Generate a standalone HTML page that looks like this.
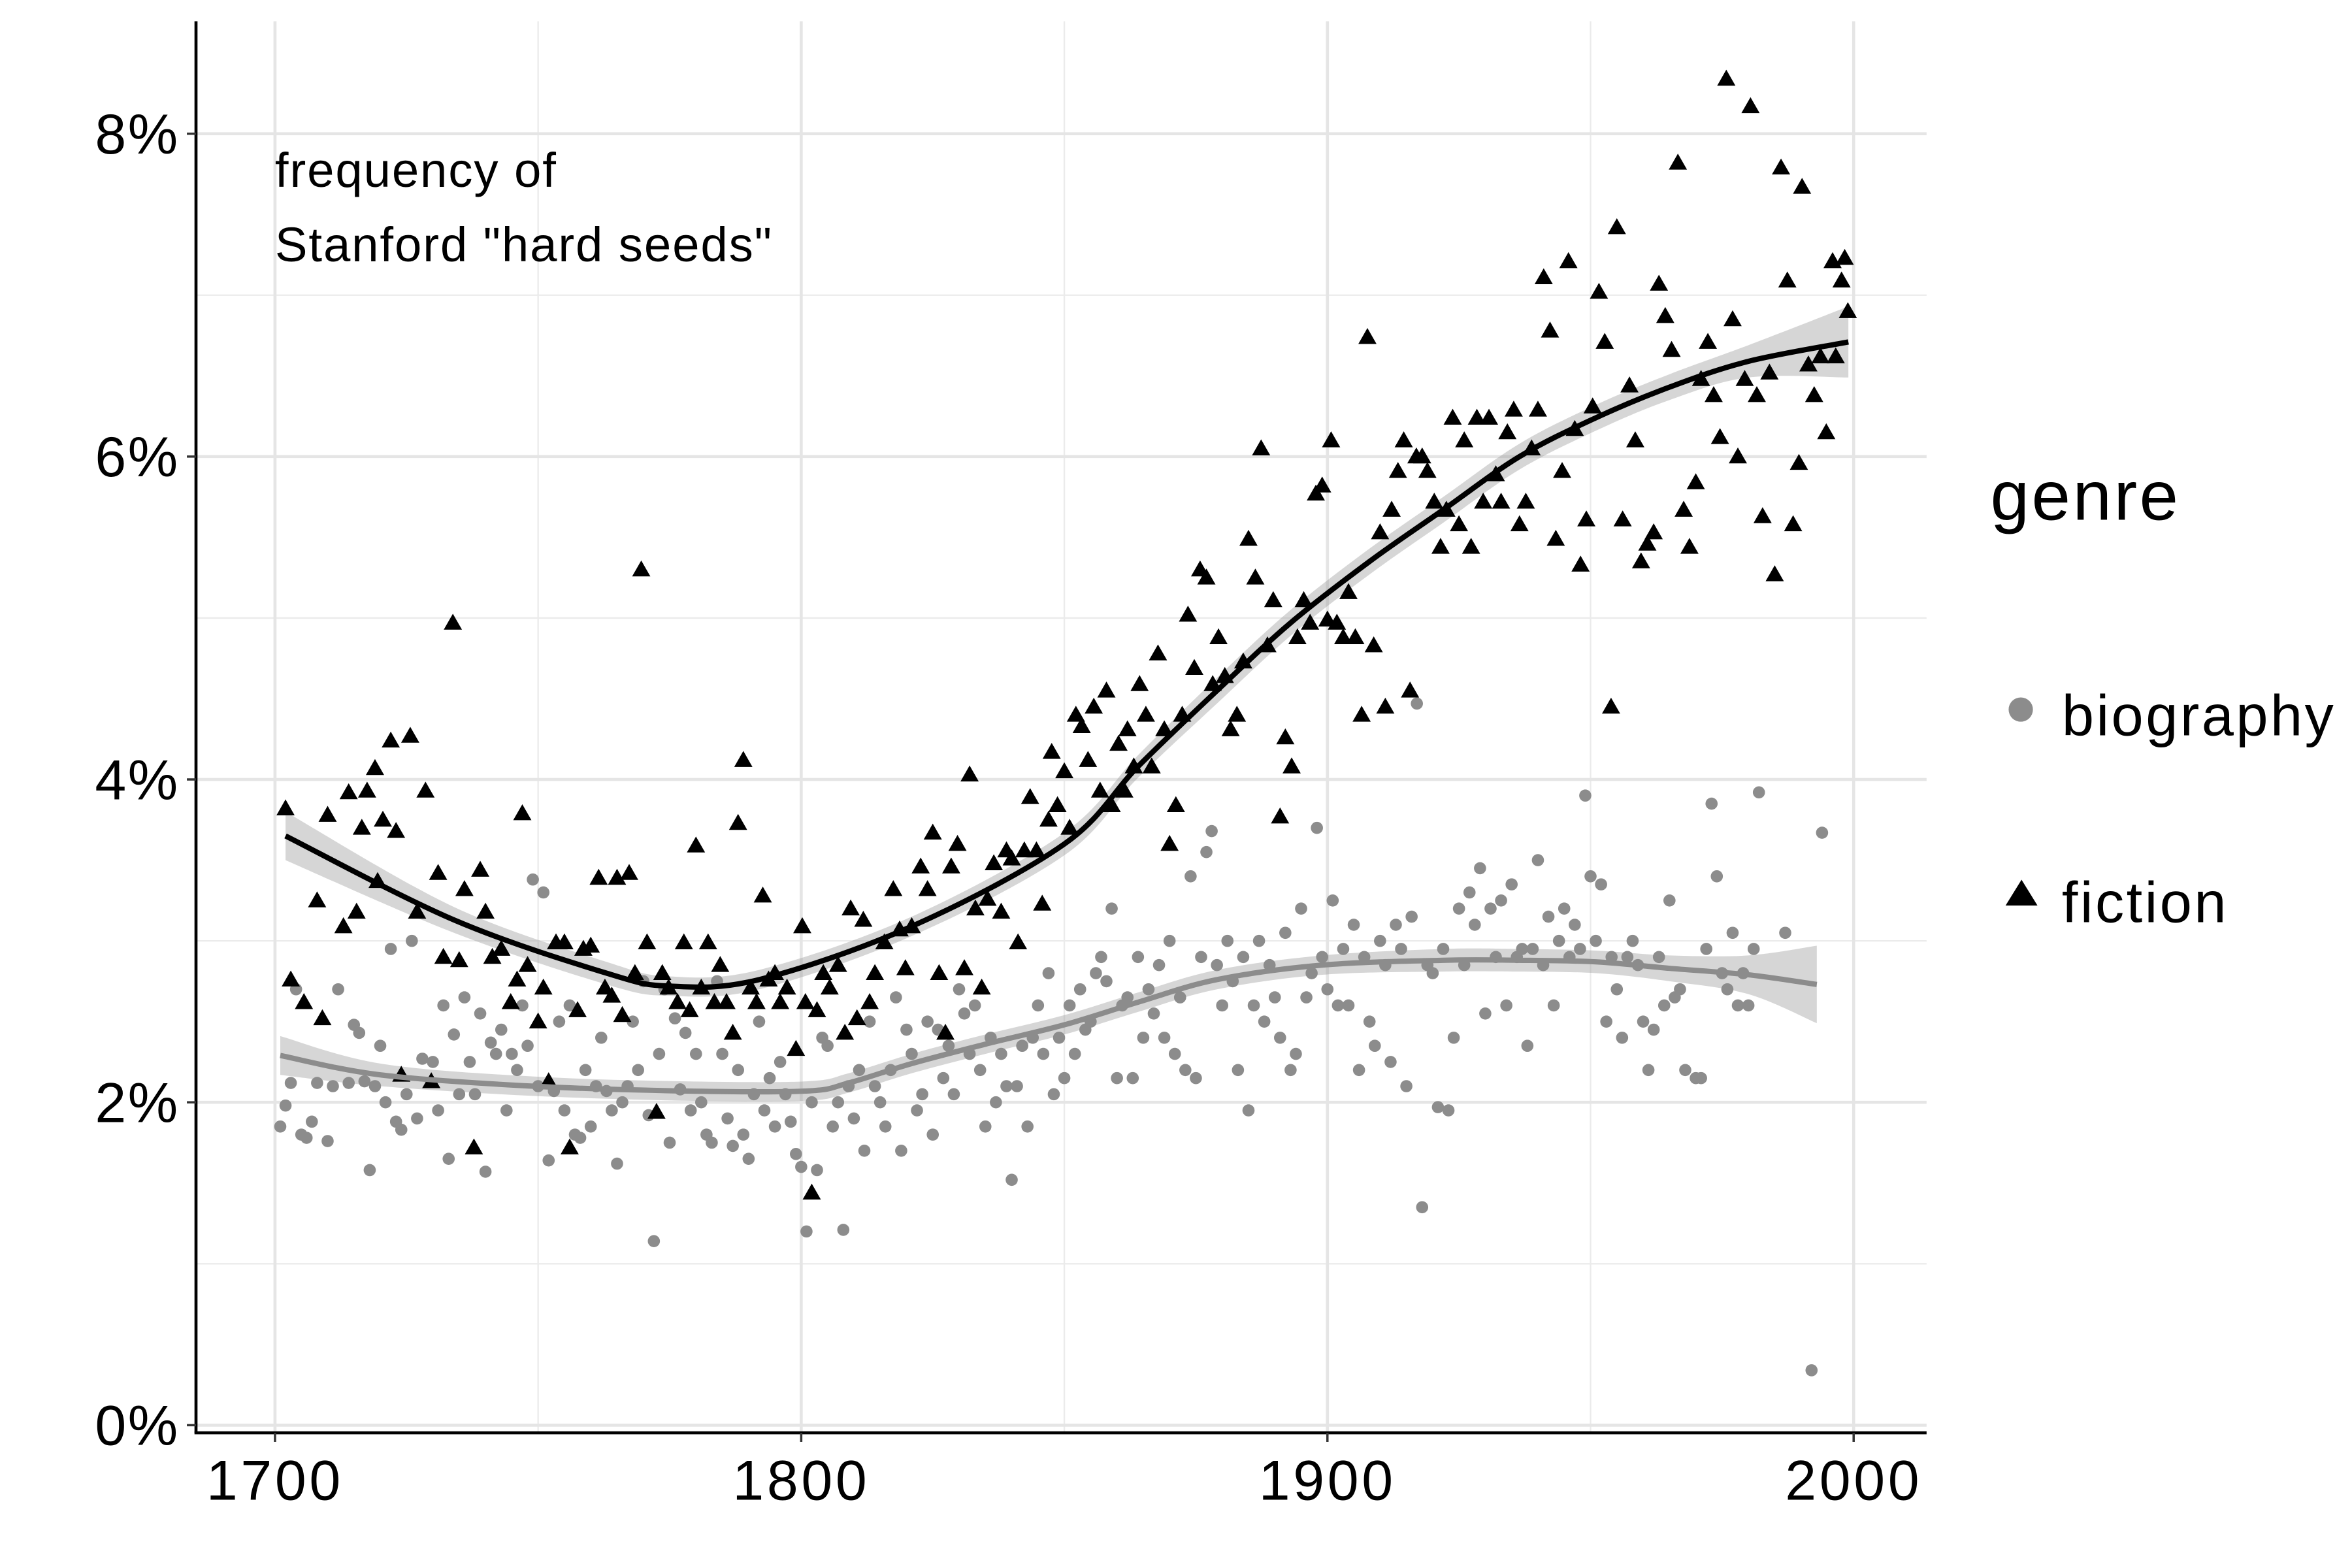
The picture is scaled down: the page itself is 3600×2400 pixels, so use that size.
<!DOCTYPE html>
<html><head><meta charset="utf-8"><style>
html,body{margin:0;padding:0;background:#fff;}
svg{display:block;}
text{font-family:"Liberation Sans",sans-serif;}
</style></head><body>
<svg id="chart" width="3600" height="2400" viewBox="0 0 1548 1032" preserveAspectRatio="none" xmlns="http://www.w3.org/2000/svg">
<g id="grid"></g>
<g id="bands"></g>
<g id="bioPts"></g>
<g id="ficPts"></g>
<g id="lines"></g>
<g id="axes"></g>
<text x="181" y="123" font-size="32" letter-spacing="0.8">frequency of</text>
<text x="181" y="172" font-size="32" letter-spacing="0.8">Stanford "hard seeds"</text>
<g>
<text x="1310" y="342" font-size="46" letter-spacing="1.5">genre</text>
<circle cx="1330" cy="467" r="8" fill="#8c8c8c"/>
<text x="1357" y="484" font-size="38" letter-spacing="1.5">biography</text>
<polygon points="1320,596 1341,596 1330.5,579" fill="#000"/>
<text x="1357" y="607" font-size="38" letter-spacing="1.5">fiction</text>
</g>
</svg>
<script>
const xTicks=[1700,1800,1900,2000];
const xMinor=[1750,1850,1950];
const yTicks=[0,2,4,6,8];
const yMinor=[1,3,5,7];
const yTickLabels=["0%","2%","4%","6%","8%"];
const ficYears=[1702,1703,1705.5,1708,1709,1710,1713,1714,1715.5,1716.5,1717.5,1719,1719.5,1720.5,1722,1723,1724,1725.7,1727,1728.6,1729.7,1731,1732,1733.8,1735,1736,1737.8,1739,1740,1741.3,1743,1744.8,1746,1747,1748,1750,1751,1752,1753.4,1755,1756,1757.5,1758.6,1760,1761.5,1762.7,1764,1765,1766,1767.3,1768.4,1769.6,1770.7,1772.5,1773.6,1774.8,1776.5,1777.7,1778.8,1780,1781,1782.3,1783.5,1784.6,1785.8,1787,1788,1789,1790.4,1791.5,1792.7,1793.8,1795,1796,1797.3,1799,1800.2,1800.8,1802,1803,1804.2,1805.4,1807,1808.3,1809.4,1810.6,1811.8,1813,1814,1815.8,1817.5,1818.7,1819.8,1821,1822.7,1824,1825,1826.2,1827.4,1828.5,1829.7,1831,1832,1833.1,1834.3,1835.4,1836.6,1838,1839,1840,1841.2,1842.4,1843.5,1844.7,1845.8,1847,1847.6,1848.7,1850,1851,1852.2,1853.3,1854.5,1855.6,1856.8,1858,1859,1860.3,1861.4,1862,1863.2,1864.3,1865.5,1866.6,1867.8,1869,1870,1871.2,1872.4,1873.5,1874.7,1875.8,1877,1878.2,1879.3,1880.5,1881.6,1882.8,1884,1885,1886.3,1887.4,1888.6,1889.7,1891,1892,1893.2,1894.3,1895.5,1896.7,1897.8,1899,1900,1900.7,1901.8,1903,1904,1905.3,1906.5,1907.6,1908.8,1910,1911,1912.2,1913.4,1914.5,1915.7,1916.9,1918,1919,1920.3,1921.5,1922.6,1923.8,1925,1926,1927.3,1928.4,1929.6,1930.7,1932,1933,1934.2,1935.4,1936.5,1937.7,1938.8,1940,1941.1,1942.3,1943.4,1944.6,1945.8,1947,1948.1,1949.2,1950.4,1951.6,1952.7,1953.9,1955,1956.1,1957.4,1958.5,1959.6,1960.8,1962,1963,1964.2,1965.4,1966.6,1967.7,1968.8,1970,1971,1972.3,1973.4,1974.6,1975.8,1977,1978,1979.3,1980.4,1981.6,1982.7,1984,1985,1986.2,1987.4,1988.5,1989.6,1990.2,1991.4,1992.5,1993.7,1994.8,1996,1996.6,1997.7,1998.3,1998.9];
const ficValues=[3.82,2.76,2.62,3.25,2.52,3.78,3.09,3.92,3.18,3.70,3.93,4.07,3.37,3.75,4.24,3.68,2.17,4.27,3.18,3.93,2.13,3.42,2.90,4.97,2.88,3.32,1.72,3.44,3.18,2.90,2.95,2.62,2.76,3.79,2.85,2.50,2.71,2.13,2.99,2.99,1.72,2.57,2.95,2.97,3.39,2.71,2.66,3.39,2.54,3.42,2.80,5.30,2.99,1.94,2.80,2.71,2.62,2.99,2.57,3.59,2.71,2.99,2.62,2.85,2.62,2.43,3.73,4.12,2.71,2.62,3.28,2.76,2.80,2.62,2.71,2.33,3.09,2.62,1.44,2.57,2.80,2.71,2.85,2.43,3.20,2.52,3.13,2.62,2.80,2.99,3.32,3.07,2.83,3.09,3.46,3.32,3.67,2.80,2.43,3.46,3.60,2.83,4.03,3.20,2.71,3.26,3.48,3.18,3.56,3.51,2.99,3.56,3.89,3.56,3.23,3.75,4.17,3.84,4.05,3.70,4.40,4.33,4.12,4.45,3.93,4.55,3.84,4.22,3.93,4.31,4.08,4.59,4.40,4.08,4.78,4.31,3.60,3.84,4.40,5.02,4.69,5.30,5.25,4.59,4.88,4.64,4.31,4.40,4.73,5.49,5.25,6.05,4.83,5.11,3.77,4.26,4.08,4.88,5.11,4.97,5.77,5.82,4.99,6.10,4.97,4.88,5.16,4.88,4.40,6.74,4.83,5.53,4.45,5.67,5.91,6.10,4.55,6.00,6.00,5.91,5.72,5.44,5.67,6.24,5.58,6.10,5.44,6.24,5.72,6.24,5.89,5.72,6.15,6.29,5.58,5.72,6.05,6.29,7.11,6.78,5.49,5.91,7.21,6.17,5.33,5.61,6.31,7.02,6.71,4.45,7.42,5.61,6.44,6.10,5.35,5.46,5.53,7.07,6.87,6.66,7.82,5.67,5.44,5.84,6.48,6.71,6.38,6.12,8.34,6.85,6.00,6.48,8.17,6.38,5.63,6.52,5.27,7.79,7.09,5.58,5.96,7.67,6.57,6.38,6.62,6.15,7.21,6.62,7.09,7.23,6.90];
const bioYears=[1701,1702,1703,1704,1705,1706,1707,1708,1710,1711,1712,1714,1715,1716,1717,1718,1719,1720,1721,1722,1723,1724,1725,1726,1727,1728,1730,1731,1732,1733,1734,1735,1736,1737,1738,1739,1740,1741,1742,1743,1744,1745,1746,1747,1748,1749,1750,1751,1752,1753,1754,1755,1756,1757,1758,1759,1760,1761,1762,1763,1764,1765,1766,1767,1768,1769,1770,1771,1772,1773,1774,1775,1776,1777,1778,1779,1780,1781,1782,1783,1784,1785,1786,1787,1788,1789,1790,1791,1792,1793,1794,1795,1796,1797,1798,1799,1800,1801,1802,1803,1804,1805,1806,1807,1808,1809,1810,1811,1812,1813,1814,1815,1816,1817,1818,1819,1820,1821,1822,1823,1824,1825,1826,1827,1828,1829,1830,1831,1832,1833,1834,1835,1836,1837,1838,1839,1840,1841,1842,1843,1844,1845,1846,1847,1848,1849,1850,1851,1852,1853,1854,1855,1856,1857,1858,1859,1860,1861,1862,1863,1864,1865,1866,1867,1868,1869,1870,1871,1872,1873,1874,1875,1876,1877,1878,1879,1880,1881,1882,1883,1884,1885,1886,1887,1888,1889,1890,1891,1892,1893,1894,1895,1896,1897,1898,1899,1900,1901,1902,1903,1904,1905,1906,1907,1908,1909,1910,1911,1912,1913,1914,1915,1916,1917,1918,1919,1920,1921,1922,1923,1924,1925,1926,1927,1928,1929,1930,1931,1932,1933,1934,1935,1936,1937,1938,1939,1940,1941,1942,1943,1944,1945,1946,1947,1948,1949,1950,1951,1952,1953,1954,1955,1956,1957,1958,1959,1960,1961,1962,1963,1964,1965,1966,1967,1968,1970,1971,1972,1973,1974,1975,1976,1977,1978,1979,1980,1981,1982,1987,1992,1994];
const bioValues=[1.85,1.98,2.12,2.7,1.8,1.78,1.88,2.12,1.76,2.1,2.7,2.12,2.48,2.43,2.13,1.58,2.1,2.35,2.0,2.95,1.88,1.83,2.05,3.0,1.9,2.27,2.25,1.95,2.6,1.65,2.42,2.05,2.65,2.25,2.05,2.55,1.57,2.37,2.3,2.45,1.95,2.3,2.2,2.6,2.35,3.38,2.1,3.3,1.64,2.07,2.5,1.95,2.6,1.8,1.78,2.2,1.85,2.1,2.4,2.07,1.95,1.62,2.0,2.1,2.5,2.2,2.75,1.92,1.14,2.3,2.7,1.75,2.52,2.08,2.43,1.95,2.3,2.0,1.8,1.75,2.75,2.3,1.9,1.73,2.2,1.8,1.65,2.05,2.5,1.95,2.15,1.85,2.25,2.05,1.88,1.68,1.6,1.2,2.0,1.58,2.4,2.35,1.85,2.0,1.21,2.1,1.9,2.2,1.7,2.5,2.1,2.0,1.85,2.2,2.65,1.7,2.45,2.3,1.95,2.05,2.5,1.8,2.45,2.15,2.35,2.05,2.7,2.55,2.3,2.6,2.2,1.85,2.4,2.0,2.3,2.1,1.52,2.1,2.35,1.85,2.4,2.6,2.3,2.8,2.05,2.4,2.15,2.6,2.3,2.7,2.45,2.5,2.8,2.9,2.75,3.2,2.15,2.6,2.65,2.15,2.9,2.4,2.7,2.55,2.85,2.4,3.0,2.3,2.65,2.2,3.4,2.15,2.9,3.55,3.68,2.85,2.6,3.0,2.75,2.2,2.9,1.95,2.6,3.0,2.5,2.85,2.65,2.4,3.05,2.2,2.3,3.2,2.65,2.8,3.7,2.9,2.7,3.25,2.6,2.95,2.6,3.1,2.2,2.9,2.5,2.35,3.0,2.85,2.25,3.1,2.95,2.1,3.15,4.47,1.35,2.85,2.8,1.97,2.95,1.95,2.4,3.2,2.85,3.3,3.1,3.45,2.55,3.2,2.9,3.25,2.6,3.35,2.9,2.95,2.35,2.95,3.5,2.85,3.15,2.6,3.0,3.2,2.9,3.1,2.95,3.9,3.4,3.0,3.35,2.5,2.9,2.7,2.4,2.9,3.0,2.85,2.5,2.2,2.45,2.9,2.6,3.25,2.65,2.7,2.2,2.15,2.15,2.95,3.85,3.4,2.8,2.7,3.05,2.6,2.8,2.6,2.95,3.92,3.05,0.34,3.67];
const ficFitYears=[1702,1734,1763,1775,1792,1821,1850,1864,1879,1893,1908,1922,1936.5,1951,1965,1980,1999];
const ficFitValues=[3.65,3.13,2.80,2.72,2.76,3.09,3.60,4.08,4.55,4.97,5.35,5.67,6.0,6.24,6.43,6.59,6.71];
const ficFitSe=[0.15,0.08,0.07,0.06,0.06,0.06,0.07,0.07,0.08,0.08,0.08,0.08,0.08,0.08,0.08,0.1,0.22];
const bioFitYears=[1701,1720,1749,1778,1801,1809,1821,1835,1850,1864,1879,1899,1922,1936,1951,1965,1980,1993];
const bioFitValues=[2.29,2.17,2.10,2.07,2.07,2.12,2.24,2.36,2.48,2.62,2.76,2.85,2.88,2.88,2.87,2.83,2.79,2.73];
const bioFitSe=[0.12,0.07,0.06,0.06,0.06,0.06,0.06,0.06,0.06,0.06,0.06,0.06,0.07,0.07,0.07,0.08,0.12,0.24];

const NS="http://www.w3.org/2000/svg";
const L=129,R=1268,T=14,B=943;
function xs(v){return 181+(v-1700)*(1220-181)/300;}
function ys(v){return 938-v*(938-88)/8;}
function mk(tag,attrs,parent){const e=document.createElementNS(NS,tag);for(const k in attrs)e.setAttribute(k,attrs[k]);parent.appendChild(e);return e;}
const grid=document.getElementById('grid');
xMinor.forEach(v=>{const e=mk('line',{x1:xs(v),x2:xs(v),y1:T,y2:B,stroke:'#ebebeb','stroke-width':1},grid);});
yMinor.forEach(v=>{const e=mk('line',{x1:L,x2:R,y1:ys(v),y2:ys(v),stroke:'#ebebeb','stroke-width':1},grid);});
xTicks.forEach(v=>{const e=mk('line',{x1:xs(v),x2:xs(v),y1:T,y2:B,stroke:'#e5e5e5','stroke-width':2},grid);});
yTicks.forEach(v=>{const e=mk('line',{x1:L,x2:R,y1:ys(v),y2:ys(v),stroke:'#e5e5e5','stroke-width':2},grid);});

function curvePts(xsArr,vals){const p=[];for(let i=0;i<xsArr.length;i++)p.push([xs(xsArr[i]),ys(vals[i])]);return p;}
function spline(p,start){let d=start?('M'+p[0][0]+','+p[0][1]):'';for(let i=0;i<p.length-1;i++){const p0=p[Math.max(0,i-1)],p1=p[i],p2=p[i+1],p3=p[Math.min(p.length-1,i+2)];
if(!start&&i===0)d+='L'+p1[0]+','+p1[1];
const c1=[p1[0]+(p2[0]-p0[0])/6,p1[1]+(p2[1]-p0[1])/6],c2=[p2[0]-(p3[0]-p1[0])/6,p2[1]-(p3[1]-p1[1])/6];
d+='C'+c1[0]+','+c1[1]+' '+c2[0]+','+c2[1]+' '+p2[0]+','+p2[1];}return d;}
function band(yrs,vals,se,name){const up=curvePts(yrs,vals.map((v,i)=>v+se[i]));const lo=curvePts(yrs,vals.map((v,i)=>v-se[i])).reverse();
const e=mk('path',{d:spline(up,true)+spline(lo,false)+'Z',fill:'#999','fill-opacity':0.4},document.getElementById('bands'));
}
band(bioFitYears,bioFitValues,bioFitSe,'biography-band');
band(ficFitYears,ficFitValues,ficFitSe,'fiction-band');

const bp=document.getElementById('bioPts');
bioYears.forEach((y,i)=>{const e=mk('circle',{cx:xs(y),cy:ys(bioValues[i]),r:4,fill:'#8c8c8c'},bp);});
const fp=document.getElementById('ficPts');
ficYears.forEach((y,i)=>{const cx=xs(y),cy=ys(ficValues[i]);const e=mk('polygon',{points:(cx-6)+','+(cy+4.5)+' '+(cx+6)+','+(cy+4.5)+' '+cx+','+(cy-6),fill:'#000'},fp);});

const ln=document.getElementById('lines');
let e1=mk('path',{d:spline(curvePts(bioFitYears,bioFitValues),true),fill:'none',stroke:'#8c8c8c','stroke-width':3.5},ln);

let e2=mk('path',{d:spline(curvePts(ficFitYears,ficFitValues),true),fill:'none',stroke:'#000','stroke-width':3.5},ln);


const ax=document.getElementById('axes');
let a1=mk('line',{x1:L,x2:L,y1:T,y2:B,stroke:'#000','stroke-width':2},ax);
let a2=mk('line',{x1:L-1,x2:R,y1:B,y2:B,stroke:'#000','stroke-width':2},ax);
xTicks.forEach(v=>{const t=mk('line',{x1:xs(v),x2:xs(v),y1:B,y2:B+6,stroke:'#333','stroke-width':1.5},ax);
const l=mk('text',{x:xs(v),y:987,'font-size':37,'text-anchor':'middle','letter-spacing':2},ax);l.textContent=String(v);});
yTicks.forEach((v,i)=>{const t=mk('line',{x1:L-6,x2:L,y1:ys(v),y2:ys(v),stroke:'#333','stroke-width':1.5},ax);
const l=mk('text',{x:118,y:ys(v)+13,'font-size':37,'text-anchor':'end','letter-spacing':1},ax);l.textContent=yTickLabels[i];});
</script>
</body></html>
